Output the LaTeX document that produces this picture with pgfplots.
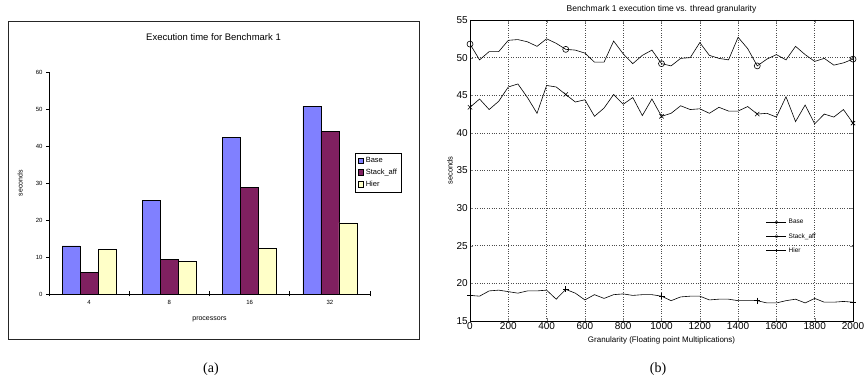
\documentclass[border=0pt]{standalone}
\usepackage{fontspec}
\setmainfont{Liberation Sans}
\newfontfamily\capfont{Liberation Serif}
\usepackage{pgfplots}
\pgfplotsset{compat=1.18}
\definecolor{cBase}{RGB}{128,128,255}
\definecolor{cStack}{RGB}{128,32,96}
\definecolor{cHier}{RGB}{255,255,200}
\pgfplotsset{sqlegend/.style={legend image code/.code={\draw[##1,draw=black,line width=0.5pt] (0pt,-2.8pt) rectangle (5.6pt,2.8pt);}}}
\pgfplotsset{lnlegend/.style={legend image code/.code={\draw[##1, mark repeat=2, mark phase=2, mark size=1.4pt, line width=0.4pt] plot coordinates {(0pt,0pt) (10pt,0pt) (20pt,0pt)};}}}

\pgfplotstableread{
x base stack hier
0 51.8 43.4 18.4
50 49.7 44.5 18.3
100 50.8 43.1 19.0
150 50.8 44.2 19.1
200 52.3 46.1 18.9
250 52.4 46.5 18.7
300 52.1 44.7 19.0
350 51.5 42.6 19.0
400 52.5 46.3 19.1
450 51.9 46.1 17.9
500 51.1 45.1 19.2
550 51.0 44.1 18.7
600 50.6 44.4 17.8
650 49.4 42.2 18.5
700 49.4 43.3 18.0
750 52.2 45.1 18.5
800 50.5 43.8 18.6
850 49.2 44.7 18.4
900 50.3 42.3 18.5
950 51.0 44.5 18.5
1000 49.2 42.2 18.3
1050 48.9 42.6 17.7
1100 49.9 43.6 18.2
1150 50.0 43.1 18.3
1200 52.0 43.2 18.3
1250 50.3 42.6 17.8
1300 49.9 43.4 17.9
1350 49.7 42.9 17.9
1400 52.7 42.9 17.7
1450 51.2 43.5 17.7
1500 48.9 42.5 17.7
1550 49.8 42.6 17.4
1600 50.4 42.1 17.4
1650 49.7 44.8 17.7
1700 51.5 41.5 17.9
1750 50.4 43.7 17.4
1800 49.5 41.2 18.0
1850 49.9 42.5 17.5
1900 49.0 42.1 17.5
1950 49.3 43.1 17.6
2000 49.8 41.3 17.5
}\granularity

\begin{document}
\begin{tikzpicture}[x=1pt,y=1pt]
\useasboundingbox (0,0) rectangle (864,385);
\draw[line width=0.9pt, black!85] (8,46) rectangle (419,364);
\begin{axis}[
  at={(49pt,91pt)}, anchor=south west,
  scale only axis, width=321pt, height=222pt,
  ymin=0, ymax=60, xmin=-0.5, xmax=3.5,
  axis lines*=left, axis line style={line width=0.6pt},
  ybar=0pt, bar width=18pt,
  ytick={0,10,...,60},
  xtick={0,1,2,3}, xticklabels={4,8,16,32},
  minor xtick={-0.5,0.5,1.5,2.5,3.5},
  tick align=outside, major tick length=3pt, minor tick length=5pt,
  every major x tick/.style={draw=none},
  every minor x tick/.append style={yshift=2.5pt, line width=0.6pt, black},
  every major y tick/.append style={line width=0.6pt, black},
  ticklabel style={font=\fontsize{6}{7}\selectfont},
  /pgf/number format/assume math mode=true,
  title={Execution time for Benchmark 1},
  title style={font=\fontsize{9.5}{11}\selectfont, at={(0.5,1)}, anchor=center, yshift=29pt, xshift=4pt},
  xlabel={processors}, ylabel={seconds},
  xlabel style={font=\fontsize{7}{8}\selectfont, at={(axis description cs:0.5,0)}, anchor=center, yshift=-25pt},
  ylabel style={font=\fontsize{7}{8}\selectfont, at={(axis description cs:-0.0903,0.5)}, anchor=center},
  legend style={at={(0.953,0.635)}, anchor=north west, draw=black, line width=0.6pt, font=\fontsize{7.5}{8.5}\selectfont, inner xsep=2.5pt, inner ysep=2pt, row sep=1pt, cells={anchor=west}},
]
\addplot[fill=cBase, draw=black, line width=0.5pt, sqlegend] coordinates {(0,13.0) (1,25.3) (2,42.4) (3,50.7)};
\addplot[fill=cStack, draw=black, line width=0.5pt, sqlegend] coordinates {(0,5.8) (1,9.4) (2,28.8) (3,44.0)};
\addplot[fill=cHier, draw=black, line width=0.5pt, sqlegend] coordinates {(0,12.0) (1,8.8) (2,12.3) (3,19.2)};
\legend{Base,Stack\_aff,Hier}
\end{axis}

\begin{axis}[
  at={(470pt,64pt)}, anchor=south west,
  scale only axis, width=383pt, height=301pt,
  xmin=0, xmax=2000, ymin=15, ymax=55,
  xtick={0,200,...,2000}, ytick={15,20,...,55},
  grid=major, grid style={dotted, black!70, line width=0.5pt},
  tick align=inside, major tick length=3pt,
  axis line style={line width=0.6pt},
  ticklabel style={font=\fontsize{10}{12}\selectfont},
  xticklabel style={inner sep=1pt},
  yticklabel style={inner sep=2pt},
  /pgf/number format/assume math mode=true,
  /pgf/number format/set thousands separator={},
  title={Benchmark 1 execution time vs. thread granularity},
  title style={font=\fontsize{8.5}{10}\selectfont, at={(0.5,1)}, anchor=center, yshift=5pt},
  xlabel={Granularity (Floating point Multiplications)}, ylabel={seconds},
  xlabel style={font=\fontsize{8}{9}\selectfont, at={(axis description cs:0.5,0)}, anchor=center, yshift=-19pt},
  ylabel style={font=\fontsize{7.5}{9}\selectfont, at={(axis description cs:-0.0522,0.5)}, anchor=center},
  legend style={at={(0.773,0.345)}, anchor=north west, draw=none, fill=none, font=\fontsize{6.5}{7}\selectfont, row sep=4pt, inner sep=0pt},
  legend cell align=left,
]
\addplot[black, line width=0.6pt, mark=o, mark size=3pt, mark repeat=10, lnlegend] table[x=x,y=base] {\granularity};
\addplot[black, line width=0.6pt, mark=x, mark size=3pt, mark repeat=10, lnlegend] table[x=x,y=stack] {\granularity};
\addplot[black, line width=0.6pt, mark=+, mark size=3pt, mark repeat=10, lnlegend] table[x=x,y=hier] {\granularity};
\legend{Base,Stack\_aff,Hier}
\end{axis}
\node[font=\capfont\fontsize{14}{16}\selectfont] at (211,16) {(a)};
\node[font=\capfont\fontsize{14}{16}\selectfont] at (658,16) {(b)};
\end{tikzpicture}
\end{document}
